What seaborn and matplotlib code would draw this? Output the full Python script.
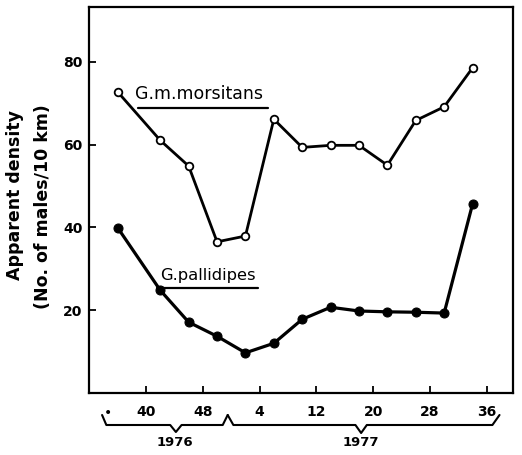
import numpy as np
import pandas as pd
import matplotlib
matplotlib.use("Agg")
import matplotlib.pyplot as plt
import matplotlib.transforms as mtransforms
import seaborn as sns

# ---- data ----
weeks = [36, 42, 46, 50, 2, 6, 10, 14, 18, 22, 26, 30, 34]
years = [1976, 1976, 1976, 1976, 1977, 1977, 1977, 1977, 1977, 1977, 1977, 1977, 1977]
morsitans = [72.7, 61.0, 54.8, 36.5, 37.9, 66.1, 59.3, 59.8, 59.8, 55.0, 65.8, 69.1, 78.5]
pallidipes = [39.9, 24.8, 17.1, 13.7, 9.7, 12.0, 17.8, 20.7, 19.8, 19.6, 19.5, 19.3, 45.6]
xtick_pos = [40, 48, 56, 64, 72, 80, 88]
xtick_labels = ["40", "48", "4", "12", "20", "28", "36"]
ytick_pos = [20, 40, 60, 80]
year_labels = ["1976", "1977"]

t = [w + 52 * (y - 1976) for w, y in zip(weeks, years)]
df = pd.DataFrame({"t": t, "morsitans": morsitans, "pallidipes": pallidipes})

sns.set_theme(style="white")
plt.rcParams["font.family"] = ["DejaVu Sans"]
plt.rcParams["text.color"] = "black"

fig = plt.figure(figsize=(5.22, 4.55), dpi=100)
W, H = 522, 455
ax = fig.add_axes([89.3 / W, 1 - 393 / H, (513 - 89.3) / W, (393 - 7) / H])

sns.lineplot(data=df, x="t", y="morsitans", ax=ax, color="black", lw=2.0,
             marker="o", markersize=5.5, markerfacecolor="white",
             markeredgecolor="black", markeredgewidth=1.3)
sns.lineplot(data=df, x="t", y="pallidipes", ax=ax, color="black", lw=2.3,
             marker="o", markersize=6.5, markerfacecolor="black",
             markeredgecolor="black")

ax.set_xlim(32, 91.7)
ax.set_ylim(0, 93.2)
ax.set_xlabel("")
ax.set_ylabel("")
for s in ax.spines.values():
    s.set_linewidth(1.6)
    s.set_color("black")

ax.set_xticks(xtick_pos)
ax.set_xticklabels(xtick_labels, fontweight="bold", fontsize=10)
ax.set_yticks(ytick_pos)
ax.set_yticklabels([str(v) for v in ytick_pos], fontweight="bold", fontsize=10)
ax.tick_params(axis="x", direction="in", length=5, width=1.3, pad=9, colors="black")
ax.tick_params(axis="y", direction="in", length=5, width=1.3, pad=5, colors="black")
ax.tick_params(bottom=True, left=True)

# series labels with underline
ax.text(38.4, 70.0, "G.m.morsitans", fontsize=12.5, color="black", ha="left", va="bottom")
ax.plot([(138 - 89.3) / (513 - 89.3), (268 - 89.3) / (513 - 89.3)],
        [(393 - 107.7) / 386] * 2, transform=ax.transAxes, color="black", lw=1.6)
ax.text(42.0, 26.5, "G.pallidipes", fontsize=11.8, color="black", ha="left", va="bottom")
ax.plot([(157 - 89.3) / (513 - 89.3), (258 - 89.3) / (513 - 89.3)],
        [(393 - 288) / 386] * 2, transform=ax.transAxes, color="black", lw=1.6)

# braces and years below the axis
bt = mtransforms.blended_transform_factory(ax.transData, fig.transFigure)
def fy(py):
    return 1 - py / H
b1x = [33.8, 34.4, 43.4, 44.2, 45.0, 50.8, 51.5]
b1y = [415, 425, 425, 432, 425, 425, 415]
b2x = [51.5, 52.3, 69.5, 70.3, 71.1, 88.8, 89.8]
b2y = [415, 425, 425, 433, 425, 425, 415]
for bx, by in ((b1x, b1y), (b2x, b2y)):
    ax.plot(bx, [fy(v) for v in by], transform=bt, color="black", lw=1.5, clip_on=False)
ax.text(34.6, fy(411), "•", transform=bt, ha="center", va="center_baseline",
        fontsize=10, color="black")
ax.text(44.1, fy(443), year_labels[0], transform=bt, ha="center", va="center",
        fontsize=9.5, fontweight="bold", color="black")
ax.text(70.3, fy(443), year_labels[1], transform=bt, ha="center", va="center",
        fontsize=9.5, fontweight="bold", color="black")

fig.text(15 / W, fy(195), "Apparent density", rotation=90, ha="center", va="center",
         fontsize=12.5, fontweight="bold", color="black")
fig.text(43 / W, fy(207), "(No. of males/10 km)", rotation=90, ha="center", va="center",
         fontsize=12.5, fontweight="bold", color="black")

fig.savefig("out.png", dpi=100)
